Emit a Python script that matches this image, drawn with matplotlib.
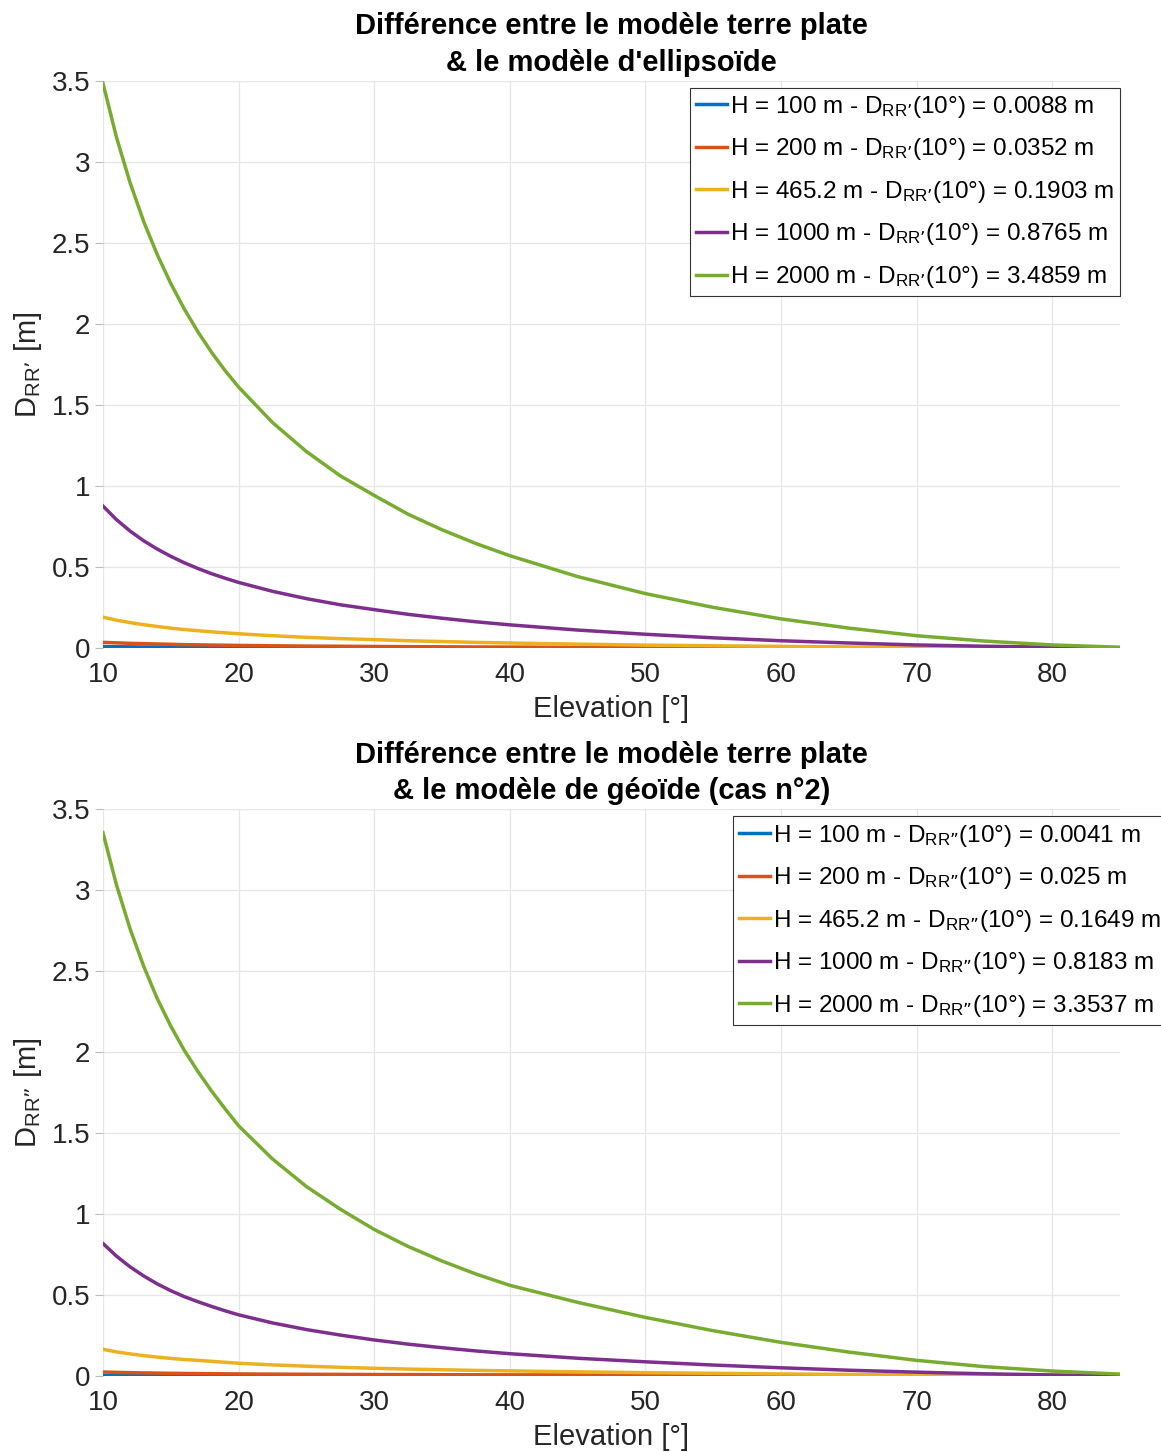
import numpy as np
import matplotlib
matplotlib.use('Agg')
import matplotlib.pyplot as plt

plt.rcParams['font.family'] = ['Liberation Sans', 'DejaVu Sans']
plt.rcParams['mathtext.default'] = 'regular'

#==============================================================================
# DATA
#==============================================================================

elevation = [10, 11, 12, 13, 14, 15, 16, 17, 18, 19, 20, 22.5, 25, 27.5, 30, 32.5, 35, 37.5, 40,
             45, 50, 55, 60, 65, 70, 75, 80, 85]

heights = ['100', '200', '465.2', '1000', '2000']

# Flat earth vs ellipsoid
ell_100 = [0.0088, 0.0080, 0.0072, 0.0066, 0.0061, 0.0057, 0.0053, 0.0049, 0.0046, 0.0043, 0.0041,
           0.0035, 0.0031, 0.0027, 0.0024, 0.0021, 0.0018, 0.0016, 0.0014,
           0.0011, 0.0008, 0.0006, 0.0005, 0.0003, 0.0002, 0.0001, 0.00005, 0.0]
ell_200 = [0.0352, 0.032, 0.029, 0.027, 0.025, 0.023, 0.021, 0.0197, 0.0184, 0.0173, 0.016,
           0.014, 0.012, 0.011, 0.0095, 0.0083, 0.0074, 0.0065, 0.0058,
           0.0045, 0.0034, 0.0025, 0.0018, 0.0012, 0.0008, 0.0004, 0.0002, 0.0001]
ell_465 = [0.1903, 0.172, 0.157, 0.144, 0.133, 0.123, 0.114, 0.107, 0.100, 0.094, 0.088,
           0.076, 0.066, 0.058, 0.052, 0.045, 0.040, 0.035, 0.031,
           0.024, 0.018, 0.014, 0.010, 0.007, 0.004, 0.002, 0.001, 0.0003]
ell_1000 = [0.8765, 0.792, 0.722, 0.662, 0.611, 0.566, 0.526, 0.491, 0.459, 0.431, 0.405,
            0.350, 0.305, 0.267, 0.237, 0.208, 0.184, 0.162, 0.143,
            0.111, 0.085, 0.063, 0.045, 0.031, 0.019, 0.011, 0.005, 0.001]
ell_2000 = [3.486, 3.151, 2.872, 2.633, 2.429, 2.250, 2.092, 1.952, 1.826, 1.713, 1.611,
            1.392, 1.213, 1.063, 0.942, 0.826, 0.730, 0.645, 0.570,
            0.441, 0.336, 0.251, 0.180, 0.123, 0.076, 0.043, 0.019, 0.005]
ell_at10 = ['0.0088', '0.0352', '0.1903', '0.8765', '3.4859']

# Flat earth vs geoid (case 2)
geo_100 = [0.0041, 0.0038, 0.0036, 0.0034, 0.0033, 0.0032, 0.0031, 0.0031, 0.0030, 0.0029, 0.0029,
           0.0028, 0.0027, 0.0026, 0.0025, 0.0024, 0.0024, 0.0023, 0.0023,
           0.0022, 0.0021, 0.0019, 0.0017, 0.0015, 0.0012, 0.0009, 0.0005, 0.0002]
geo_200 = [0.025, 0.0228, 0.021, 0.0195, 0.0182, 0.017, 0.0160, 0.0153, 0.0145, 0.0138, 0.0132,
           0.012, 0.011, 0.0102, 0.0095, 0.0089, 0.0084, 0.0079, 0.0075,
           0.0068, 0.0061, 0.0054, 0.0047, 0.004, 0.0032, 0.0023, 0.0014, 0.0005]
geo_465 = [0.1649, 0.149, 0.137, 0.126, 0.117, 0.109, 0.102, 0.097, 0.091, 0.085, 0.079,
           0.069, 0.061, 0.054, 0.048, 0.043, 0.039, 0.035, 0.032,
           0.026, 0.021, 0.017, 0.013, 0.010, 0.007, 0.005, 0.003, 0.001]
geo_1000 = [0.8183, 0.740, 0.674, 0.618, 0.569, 0.527, 0.490, 0.459, 0.430, 0.403, 0.378,
            0.328, 0.287, 0.253, 0.223, 0.197, 0.175, 0.155, 0.138,
            0.110, 0.088, 0.068, 0.051, 0.036, 0.024, 0.014, 0.007, 0.002]
geo_2000 = [3.354, 3.03, 2.76, 2.53, 2.33, 2.16, 2.01, 1.88, 1.76, 1.65, 1.545,
            1.34, 1.17, 1.03, 0.905, 0.80, 0.71, 0.63, 0.56,
            0.455, 0.362, 0.28, 0.208, 0.148, 0.097, 0.058, 0.031, 0.012]
geo_at10 = ['0.0041', '0.025', '0.1649', '0.8183', '3.3537']

# MATLAB default colour order
colors = ['#0072BD', '#D95319', '#EDB120', '#7E2F8E', '#77AC30']

#==============================================================================
# PLOT
#==============================================================================

fig = plt.figure(figsize=(11.61, 14.52), dpi=100)
ax_top = fig.add_axes([0.0887, 0.5537, 0.876, 0.3905])
ax_bot = fig.add_axes([0.0887, 0.0523, 0.876, 0.3905])

panels = [
    (ax_top, [ell_100, ell_200, ell_465, ell_1000, ell_2000], ell_at10, '\u2019',
     "Différence entre le modèle terre plate\n& le modèle d'ellipsoïde", (0.577, 0.988)),
    (ax_bot, [geo_100, geo_200, geo_465, geo_1000, geo_2000], geo_at10, '\u201d',
     "Différence entre le modèle terre plate\n& le modèle de géoïde (cas n°2)", (0.619, 0.987)),
]

for ax, series, at10, prime, title, leg_pos in panels:
    for h, vals, v10, c in zip(heights, series, at10, colors):
        ax.plot(elevation, vals, color=c, linewidth=2.5,
                label=f'H = {h} m - D$_{{RR{prime}}}$(10°) = {v10} m')

    ax.set_xlim(10, 85)
    ax.set_ylim(0, 3.5)
    ax.set_xticks([10, 20, 30, 40, 50, 60, 70, 80])
    ax.set_yticks([0, 0.5, 1, 1.5, 2, 2.5, 3, 3.5])
    ax.set_yticklabels(['0', '0.5', '1', '1.5', '2', '2.5', '3', '3.5'])
    ax.grid(True, color='#e6e6e6', linewidth=0.9)
    ax.set_axisbelow(True)
    for sp in ax.spines.values():
        sp.set_visible(False)
    ax.tick_params(axis='y', length=6, width=0.8, color='#bbbbbb', labelsize=20, labelcolor='#262626', pad=3)
    ax.tick_params(axis='x', length=0, labelsize=20, labelcolor='#262626', pad=10)

    ax.set_xlabel('Elevation [°]', fontsize=21, color='#262626', labelpad=5)
    ax.set_ylabel(f'D$_{{RR{prime}}}$ [m]', fontsize=21, color='#262626', labelpad=6)
    ax.set_title(title, fontsize=21, fontweight='bold', linespacing=1.4, pad=7)

    leg = ax.legend(loc='upper left', bbox_to_anchor=leg_pos, borderaxespad=0,
                    fontsize=17.5, handlelength=1.3, handletextpad=0.1,
                    labelspacing=0.68, borderpad=0.25, fancybox=False, framealpha=1)
    leg.get_frame().set_edgecolor('#333333')
    leg.get_frame().set_linewidth(0.8)

plt.savefig('out.png', dpi=100)
plt.close()
